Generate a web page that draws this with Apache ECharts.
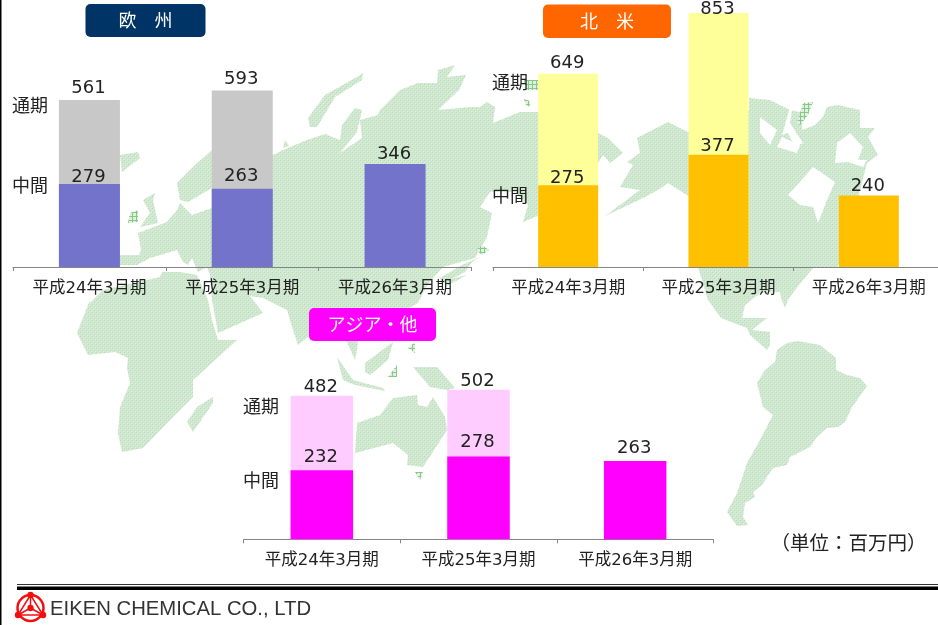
<!DOCTYPE html>
<html><head><meta charset="utf-8">
<style>html,body{margin:0;padding:0;background:#fff}#c{width:938px;height:625px}</style>
<script src="https://cdn.jsdelivr.net/npm/echarts@6/dist/echarts.min.js"></script>
</head><body><div id="c"></div>
<script>
// ---- data ----
const categories = ['平成24年3月期','平成25年3月期','平成26年3月期'];
const europeFull = [561,593,null];
const europeHalf = [279,263,346];
const americaFull = [649,853,null];
const americaHalf = [275,377,240];
const asiaFull = [482,502,null];
const asiaHalf = [232,278,263];

// ---- decorative background map outlines (not data) ----
const land = [
 // Eurasia
 [[138,233],[167,222],[177,210],[180,203],[192,215],[212,208],[212,188],[210,189],[188,202],[180,200],[177,183],[195,165],[212,150],[273,155],[283,150],[307,140],[325,134],[340,140],[342,125],[355,108],[362,110],[357,132],[340,153],[362,138],[360,120],[378,115],[380,110],[400,90],[418,83],[437,83],[438,70],[455,65],[447,77],[466,75],[459,90],[438,110],[470,107],[480,107],[487,102],[495,107],[493,123],[520,112],[538,112],[598,133],[608,138],[623,153],[610,163],[603,155],[598,163],[598,190],[540,215],[523,222],[528,205],[515,192],[490,192],[480,207],[492,213],[487,237],[475,258],[443,267],[427,285],[418,303],[405,310],[395,325],[362,330],[358,340],[357,350],[355,360],[347,342],[340,335],[322,330],[308,337],[298,345],[293,330],[287,310],[263,298],[250,296],[263,313],[218,333],[212,300],[210,275],[207,267],[198,272],[192,258],[188,265],[183,262],[177,250],[167,253],[150,258],[137,265],[120,265],[120,255],[139,255],[141,250]],
 // Iceland, UK
 [[120,155],[138,152],[140,158],[122,172]],
 [[143,200],[155,193],[153,200],[158,223],[140,227],[150,213]],
 // Arctic islands
 [[308,118],[325,95],[357,77],[363,73],[362,80],[335,97],[317,127],[310,127]],
 [[283,148],[285,140],[289,146]],
 // Japan
 [[480,257],[472,262],[465,272],[442,284],[440,278],[462,265]],
 [[447,280],[467,275],[445,287]],
 // Africa
 [[90,303],[103,290],[160,277],[162,272],[180,272],[197,275],[208,300],[212,320],[218,340],[237,340],[193,380],[193,397],[173,417],[143,448],[122,452],[118,433],[120,407],[130,383],[127,368],[128,358],[115,352],[88,355],[77,333],[90,300]],
 [[187,422],[197,407],[213,397],[213,403],[193,432]],
 // South-east Asia & Oceania
 [[337,357],[353,380],[383,388],[385,391],[355,385],[343,380]],
 [[365,363],[393,342],[388,360],[370,375],[365,372]],
 [[413,367],[437,367],[455,388],[447,390],[430,387]],
 [[357,423],[380,415],[393,398],[417,395],[418,405],[427,407],[433,397],[445,417],[447,430],[423,467],[407,465],[408,455],[393,443],[355,453]],
 // North America
 [[627,162],[640,153],[637,138],[668,122],[688,132],[749,110],[749,98],[770,100],[790,110],[823,117],[827,107],[838,105],[860,110],[860,128],[875,128],[868,137],[878,155],[867,163],[860,190],[838,267],[813,268],[795,290],[788,300],[785,308],[781,298],[780,292],[760,293],[745,305],[742,318],[755,318],[767,318],[752,330],[770,332],[770,345],[767,350],[750,335],[747,328],[721,318],[708,300],[698,267],[690,197],[668,183],[658,190],[643,198],[605,216],[620,205],[640,190],[620,187],[633,165]],
 // South America
 [[777,350],[787,343],[798,341],[820,345],[836,358],[836,370],[847,375],[860,378],[867,386],[852,407],[845,422],[838,427],[827,428],[817,437],[810,447],[790,457],[787,465],[773,468],[767,477],[762,485],[753,492],[755,497],[745,503],[743,517],[748,525],[737,526],[727,512],[737,493],[747,463],[760,440],[773,415],[763,407],[757,383],[765,370],[775,362]]
];
const water = [
 [[788,195],[813,167],[835,182],[827,200],[818,223],[813,207],[800,205]],
 [[837,143],[850,133],[863,147],[858,160],[867,160],[863,167],[848,162],[835,163]],
 [[760,117],[777,130],[770,145],[760,133]],
 [[782,137],[800,145],[797,153],[777,147]],
 [[793,103],[790,123],[803,143],[795,147],[788,133],[782,135],[790,107]],
 [[803,100],[823,117],[815,125],[802,130]]
];
const hatched = [
 [[130,213],[138,210],[138,222],[128,223]],
 [[482,245],[489,250],[482,255],[476,250]],
 [[797,123],[803,103],[813,102],[808,115],[800,125]],
 [[388,377],[397,365],[397,377]],
 [[408,348],[415,342],[415,353]],
 [[415,472],[423,472],[420,480]],
 [[524,99],[530,101],[530,107],[526,105]],
 [[524,80],[538,80],[538,90],[526,90]]
];

function makePattern(base, dot, rowDark){
  const k=document.createElement('canvas');k.width=4;k.height=4;
  const g=k.getContext('2d');g.fillStyle=base;g.fillRect(0,0,4,4);
  g.fillStyle=dot;g.fillRect(0,0,1,1);g.fillRect(2,2,1,1);
  g.fillStyle=rowDark;g.fillRect(1,1,1,1);g.fillRect(3,3,1,1);
  return {image:k,repeat:'repeat'};
}
const landFill = makePattern('#cfe8cf','#b8dcb8','#e0f0e0');
const hatchFill = (function(){
  const k=document.createElement('canvas');k.width=4;k.height=4;
  const g=k.getContext('2d');g.fillStyle='#dff0df';g.fillRect(0,0,4,4);
  g.fillStyle='#86c886';g.fillRect(0,0,4,1);g.fillRect(0,0,1,4);
  return {image:k,repeat:'repeat'};
})();

const CJK='"Noto Sans CJK JP"';
const LATIN='"DejaVu Sans","Noto Sans CJK JP"';
const graphics=[];
land.forEach(p=>graphics.push({type:'polygon',silent:true,z:1,shape:{points:p},style:{fill:landFill}}));
water.forEach(p=>graphics.push({type:'polygon',silent:true,z:2,shape:{points:p},style:{fill:'#fff'}}));
hatched.forEach(p=>graphics.push({type:'polygon',silent:true,z:2,shape:{points:p},style:{fill:hatchFill}}));
function txt(t,x,y,size,fill,fam,align){
  graphics.push({type:'text',silent:true,z:100,x:x,y:y,style:{text:t,font:size+'px '+(fam||CJK),fill:fill||'#222',textAlign:align||'center',textVerticalAlign:'middle'}});
}
function badge(x,y,w,h,color,t){
  graphics.push({type:'rect',silent:true,z:90,shape:{x:x,y:y,width:w,height:h,r:5},style:{fill:color}});
  txt(t,x+w/2,y+h/2,18,'#fff');
}
badge(85.5,4,120,33,'#003366','欧　州');
badge(543,4.5,128,33.5,'#ff6600','北　米');
badge(309,308,127,33,'#ff00ff','アジア・他');
txt('通期',30,105,18);txt('中間',30,185,18);
txt('通期',510,82,18);txt('中間',510,195,18);
txt('通期',261,406,18);txt('中間',261,480,18);
txt('（単位：百万円）',848.5,543,19.5);
// frame & footer
graphics.push({type:'rect',silent:true,z:100,shape:{x:0,y:0,width:1.5,height:625},style:{fill:'#000'}});
graphics.push({type:'rect',silent:true,z:100,shape:{x:17,y:584,width:921,height:1},style:{fill:'#333'}});
graphics.push({type:'rect',silent:true,z:100,shape:{x:17,y:586.5,width:921,height:3.5},style:{fill:'#000'}});
txt('EIKEN CHEMICAL CO., LTD',50,609,20.3,'#333','"Liberation Sans"','left');
// logo
const red='#f01010';
graphics.push({type:'circle',silent:true,z:100,shape:{cx:30.5,cy:608,r:13},style:{fill:'none',stroke:red,lineWidth:2.5}});
graphics.push({type:'polygon',silent:true,z:100,shape:{points:[[30.5,595],[18,615],[43,615]]},style:{fill:'none',stroke:red,lineWidth:1.5}});
[[30.5,595],[18,615],[43,615],[30.5,608]].forEach(c=>graphics.push({type:'circle',silent:true,z:100,shape:{cx:c[0],cy:c[1],r:3.2},style:{fill:red}}));
[[30.5,595],[18,615],[43,615]].forEach(c=>graphics.push({type:'line',silent:true,z:100,shape:{x1:30.5,y1:608,x2:c[0],y2:c[1]},style:{stroke:red,lineWidth:1.5}}));

// ---- panels ----
const panels=[
 {left:13,top:5,width:458.5,full:europeFull,half:europeHalf,cFull:'#c8c8c8',cHalf:'#7373cc',bw:61,fullDy:[1,2,0],halfDy:[6,1,3]},
 {left:493,top:5,width:451,full:americaFull,half:americaHalf,cFull:'#ffff99',cHalf:'#ffc000',bw:60,fullDy:[3,9,0],halfDy:[6,5,4]},
 {left:243.5,top:277.3,width:470,full:asiaFull,half:asiaHalf,cFull:'#ffccff',cHalf:'#ff00ff',bw:62.5,fullDy:[5,4,0],halfDy:[0,-1,0]}
];
const MAX=880,H=262;
const grid=[],xAxis=[],yAxis=[],series=[];
const labelStyle={show:true,position:'top',distance:4,fontFamily:'DejaVu Sans',fontSize:18,color:'#222'};
const items=(vals,dy)=>vals.map((v,k)=>({value:v,label:{offset:[-1,dy[k]]}}));
panels.forEach((p,i)=>{
  grid.push({left:p.left,top:p.top,width:p.width,height:H,outerBoundsMode:'none'});
  xAxis.push({type:'category',gridIndex:i,data:categories,
    axisLine:{lineStyle:{color:'#868686',width:1}},
    axisTick:{show:true,length:4,lineStyle:{color:'#868686'}},
    axisLabel:{interval:0,margin:13,fontFamily:LATIN,fontSize:16.5,color:'#222'},z:3});
  yAxis.push({type:'value',gridIndex:i,min:0,max:MAX,show:false,splitLine:{show:false}});
  series.push({type:'bar',xAxisIndex:i,yAxisIndex:i,data:items(p.full,p.fullDy),barWidth:p.bw,barGap:'-100%',z:3,
    itemStyle:{color:p.cFull},label:labelStyle,animation:false});
  series.push({type:'bar',xAxisIndex:i,yAxisIndex:i,data:items(p.half,p.halfDy),barWidth:p.bw,barGap:'-100%',z:4,
    itemStyle:{color:p.cHalf},label:labelStyle,animation:false});
});
const chart=echarts.init(document.getElementById('c'),null,{renderer:'canvas'});
chart.setOption({animation:false,backgroundColor:'#fff',grid,xAxis,yAxis,series,graphic:{elements:graphics}});
</script></body></html>
